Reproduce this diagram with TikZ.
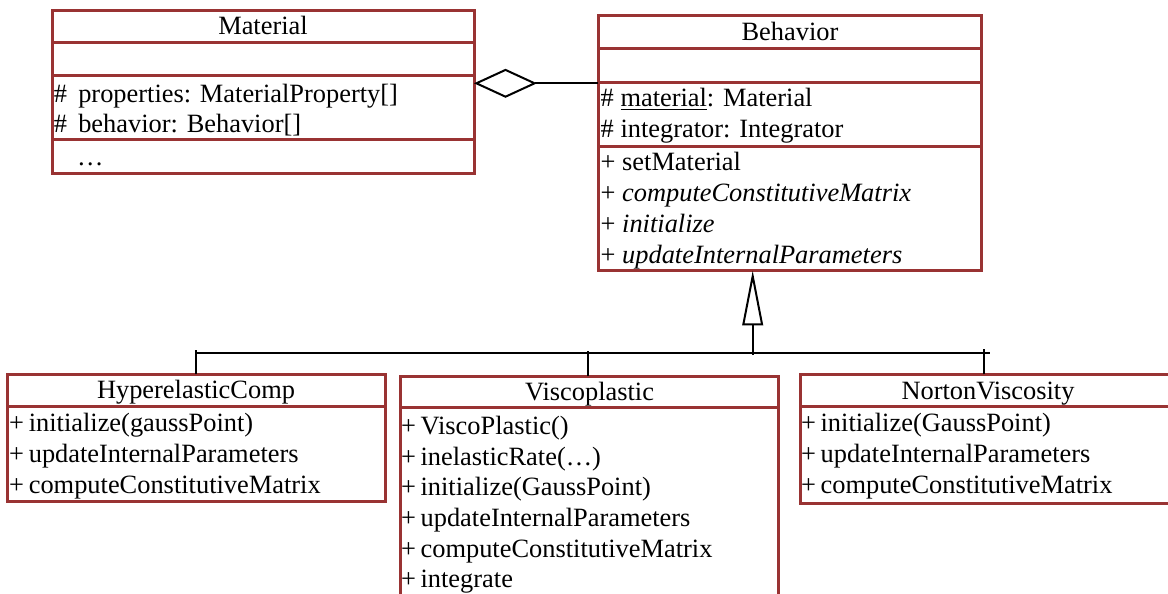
\documentclass[tikz,border=0pt]{standalone}
\usepackage{fontspec}
\setmainfont{Liberation Serif}
\usetikzlibrary{arrows.meta,fit}
\definecolor{boxred}{RGB}{153,51,51}
\newcommand{\pl}{+\hspace{0.18em}}
\begin{document}
\begin{tikzpicture}[x=0.5pt,y=-0.5pt,
  umlbox/.style={draw=boxred, line width=1.5pt, inner sep=0pt, outer sep=0pt, rectangle},
  sepline/.style={draw=boxred, line width=1.5pt},
  txt/.style={inner sep=0pt, outer sep=0pt, font=\fontsize{13.2pt}{15pt}\selectfont, anchor=base west},
  hdr/.style={txt, anchor=base},
  conn/.style={draw=black, line width=1pt},
]
\useasboundingbox (0,0) rectangle (1168,594);
\clip (0,0) rectangle (1168,594);

% ---------- Material ----------
\node[umlbox, fit={(52,10) (474,173.3)}] (mat) {};
\draw[sepline] (52,42.3) -- (474,42.3);
\draw[sepline] (52,75) -- (474,75);
\draw[sepline] (52,139.3) -- (474,139.3);
\node[hdr] (matT) at (263,34) {Material};
\node[txt] (matA1) at (54,102.7) {\#\hspace{0.42em}properties: MaterialProperty[]};
\node[txt] (matA2) at (54,132.7) {\#\hspace{0.42em}behavior: Behavior[]};
\node[txt] (matM1) at (77,165.7) {…};

% ---------- Behavior ----------
\node[umlbox, fit={(598,15) (981.7,270.7)}] (beh) {};
\draw[sepline] (598,48.3) -- (981.7,48.3);
\draw[sepline] (598,82) -- (981.7,82);
\draw[sepline] (598,146) -- (981.7,146);
\node[hdr] (behT) at (790,40.7) {Behavior};
\node[txt] (behA1) at (600.7,106) {\# \underline{material}: Material};
\node[txt] (behA2) at (600.7,137) {\# integrator: Integrator};
\node[txt] (behM1) at (600.7,170) {+ setMaterial};
\node[txt] (behM2) at (600.7,201.5) {+ \textit{computeConstitutiveMatrix}};
\node[txt] (behM3) at (600.7,232.5) {+ \textit{initialize}};
\node[txt] (behM4) at (600.7,263.3) {+ \textit{updateInternalParameters}};

% ---------- HyperelasticComp ----------
\node[umlbox, fit={(7.3,374.3) (385.5,501.7)}] (hyp) {};
\draw[sepline] (7.3,406.7) -- (385.5,406.7);
\node[hdr] (hypT) at (196,398.3) {HyperelasticComp};
\node[txt] (hypM1) at (9.2,431.7) {\pl initialize(gaussPoint)};
\node[txt] (hypM2) at (9.2,462.7) {\pl updateInternalParameters};
\node[txt] (hypM3) at (9.2,493.5) {\pl computeConstitutiveMatrix};

% ---------- Viscoplastic ----------
\node[umlbox, fit={(400,376) (778,620)}] (vis) {};
\draw[sepline] (400,407.7) -- (778,407.7);
\node[hdr] (visT) at (589.5,400) {Viscoplastic};
\node[txt] (visM1) at (401,434) {\pl ViscoPlastic()};
\node[txt] (visM2) at (401,465) {\pl inelasticRate(…)};
\node[txt] (visM3) at (401,495.5) {\pl initialize(GaussPoint)};
\node[txt] (visM4) at (401,526) {\pl updateInternalParameters};
\node[txt] (visM5) at (401,557) {\pl computeConstitutiveMatrix};
\node[txt] (visM6) at (401,587) {\pl integrate};

% ---------- NortonViscosity ----------
\node[umlbox, fit={(800,374.3) (1176,503)}] (nv) {};
\draw[sepline] (800,406.7) -- (1176,406.7);
\node[hdr] (nvT) at (988,399.3) {NortonViscosity};
\node[txt] (nvM1) at (801,431.7) {\pl initialize(GaussPoint)};
\node[txt] (nvM2) at (801,462.7) {\pl updateInternalParameters};
\node[txt] (nvM3) at (801,493.5) {\pl computeConstitutiveMatrix};

% ---------- aggregation ----------
\coordinate (matR) at (474,83.3);
\coordinate (behL) at (598,83.3);
\draw[conn, -{Diamond[open, length=31.5pt, width=14.5pt]}] (behL) -- (matR);

% ---------- generalization ----------
\coordinate (behB) at (752.7,270.7);
\coordinate (genJ) at (752.7,355);
\draw[conn, -{Triangle[open, length=27.35pt, width=10.3pt]}] (genJ) -- (behB);
\coordinate (busL) at (195.7,353);
\coordinate (busR) at (990,353);
\draw[conn] (busL) -- (busR);
\coordinate (stemH) at (195.7,350);
\coordinate (stemV) at (588,350.7);
\coordinate (stemN) at (984,349);
\draw[conn] (hyp.north -| stemH) -- (stemH);
\draw[conn] (vis.north -| stemV) -- (stemV);
\draw[conn] (nv.north -| stemN) -- (stemN);
\end{tikzpicture}
\end{document}
